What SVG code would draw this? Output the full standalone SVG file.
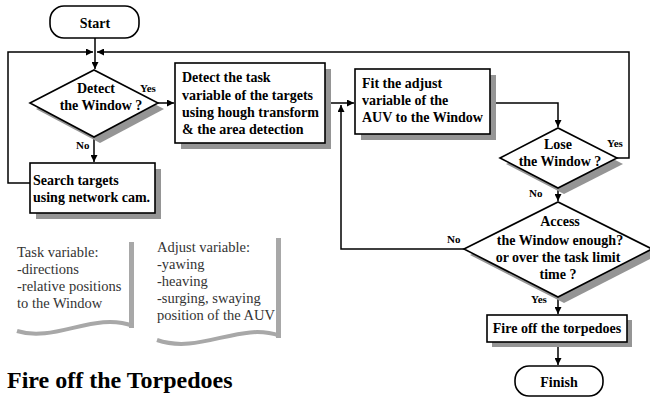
<svg xmlns="http://www.w3.org/2000/svg" width="650" height="398" viewBox="0 0 650 398">
  <defs>
    <marker id="arr" viewBox="0 0 10 10" refX="10" refY="5" markerWidth="7" markerHeight="7" markerUnits="userSpaceOnUse" orient="auto">
      <path d="M0,0 L10,5 L0,10 z" fill="#000"/>
    </marker>
    <style>
      .box { fill: #fff; stroke: #000; stroke-width: 1.6; }
      .shd { fill: #959595; stroke: none; }
      .t { font-family: "Liberation Serif", "Times New Roman", serif; font-weight: bold; font-size: 14px; fill: #000; }
      .tc { text-anchor: middle; }
      .lbl { font-family: "Liberation Serif", "Times New Roman", serif; font-weight: bold; font-size: 11px; fill: #000; }
      .doc { font-family: "Liberation Serif", "Times New Roman", serif; font-size: 14.5px; fill: #333; }
      .wave { fill: none; stroke: #a8a8a8; stroke-width: 4; }
      .bar { fill: #a8a8a8; }
      .c { fill: none; stroke: #000; stroke-width: 1.5; }
    </style>
  </defs>
  <rect width="650" height="398" fill="#fff"/>

  <!-- connectors -->
  <g id="connectors">
    <path class="c" d="M95,38 V69" marker-end="url(#arr)"/>
    <path class="c" d="M30,183 H8 V52 H93" marker-end="url(#arr)"/>
    <path class="c" d="M617,158 H629 V52 H97" marker-end="url(#arr)"/>
    <path class="c" d="M158,103 H174" marker-end="url(#arr)"/>
    <path class="c" d="M94,137 V162" marker-end="url(#arr)"/>
    <path class="c" d="M325,103 H354" marker-end="url(#arr)"/>
    <path class="c" d="M490,103 H558 V127" marker-end="url(#arr)"/>
    <path class="c" d="M558,188 V201" marker-end="url(#arr)"/>
    <path class="c" d="M464,249 H341 V105" marker-end="url(#arr)"/>
    <path class="c" d="M558,297 V314" marker-end="url(#arr)"/>
    <path class="c" d="M558,342 V365" marker-end="url(#arr)"/>
    <text class="lbl" x="140" y="92">Yes</text>
    <text class="lbl" x="76" y="149">No</text>
    <text class="lbl" x="607" y="147">Yes</text>
    <text class="lbl" x="529" y="197">No</text>
    <text class="lbl" x="447" y="243">No</text>
    <text class="lbl" x="531" y="303">Yes</text>
  </g>

  <!-- start terminal -->
  <g id="start">
    <rect class="box" x="50" y="6" width="89" height="32" rx="14"/>
    <text class="t tc" x="95" y="28">Start</text>
  </g>

  <!-- decision: detect the window -->
  <g id="detect-window">
    <polygon class="shd" points="36,109 100,76 164,109 100,143"/>
    <polygon class="box" points="30,103 94,70 158,103 94,137"/>
    <text class="t tc" x="96" y="93">Detect</text>
    <text class="t tc" x="101" y="110">the Window ?</text>
  </g>

  <!-- process: detect task variable -->
  <g id="detect-task">
    <rect class="shd" x="181" y="69" width="150" height="80"/>
    <rect class="box" x="175" y="63" width="150" height="80"/>
    <text class="t" x="182" y="82">Detect the task</text>
    <text class="t" x="182" y="100">variable of the targets</text>
    <text class="t" x="182" y="117">using hough transform</text>
    <text class="t" x="182" y="134">&amp; the area detection</text>
  </g>

  <!-- process: search targets -->
  <g id="search">
    <rect class="shd" x="36" y="169" width="125" height="50"/>
    <rect class="box" x="30" y="163" width="125" height="50"/>
    <text class="t" x="33" y="185">Search targets</text>
    <text class="t" x="33" y="202">using network cam.</text>
  </g>

  <!-- process: fit adjust variable -->
  <g id="fit-adjust">
    <rect class="shd" x="361" y="75" width="135" height="65"/>
    <rect class="box" x="355" y="69" width="135" height="65"/>
    <text class="t" x="362" y="88">Fit the adjust</text>
    <text class="t" x="362" y="105">variable of the</text>
    <text class="t" x="362" y="122">AUV to the Window</text>
  </g>

  <!-- decision: lose the window -->
  <g id="lose-window">
    <polygon class="shd" points="506,164 564,134 623,164 564,194"/>
    <polygon class="box" points="500,158 558,128 617,158 558,188"/>
    <text class="t tc" x="558" y="149">Lose</text>
    <text class="t tc" x="560" y="166">the Window ?</text>
  </g>

  <!-- decision: access enough -->
  <g id="access-window">
    <polygon class="shd" points="470,255 564,208 658,255 564,303"/>
    <polygon class="box" points="464,249 558,202 652,249 558,297"/>
    <text class="t tc" x="560" y="226">Access</text>
    <text class="t tc" x="560" y="245">the Window enough?</text>
    <text class="t tc" x="558" y="262">or over the task limit</text>
    <text class="t tc" x="558" y="279">time ?</text>
  </g>

  <!-- process: fire -->
  <g id="fire">
    <rect class="shd" x="492" y="320" width="140" height="27"/>
    <rect class="box" x="487" y="315" width="140" height="27"/>
    <text class="t tc" x="557" y="333">Fire off the torpedoes</text>
  </g>

  <!-- finish terminal -->
  <g id="finish">
    <rect class="box" x="515" y="366" width="88" height="30" rx="14"/>
    <text class="t tc" x="559" y="387">Finish</text>
  </g>

  <!-- note: task variable -->
  <g id="note-task">
    <rect class="bar" x="129" y="242" width="5" height="86"/>
    <path class="wave" d="M17,331 C55,343 95,311 133,326"/>
    <text class="doc" x="17" y="257">Task variable:</text>
    <text class="doc" x="17" y="274">-directions</text>
    <text class="doc" x="17" y="291">-relative positions</text>
    <text class="doc" x="17" y="308">to the Window</text>
  </g>

  <!-- note: adjust variable -->
  <g id="note-adjust">
    <rect class="bar" x="276" y="238" width="5" height="100"/>
    <path class="wave" d="M157,340 C200,355 240,321 280,336"/>
    <text class="doc" x="157" y="252">Adjust variable:</text>
    <text class="doc" x="157" y="269">-yawing</text>
    <text class="doc" x="157" y="286">-heaving</text>
    <text class="doc" x="157" y="303">-surging, swaying</text>
    <text class="doc" x="157" y="320">position of the AUV</text>
  </g>

  <text x="7" y="388" font-family="'Liberation Serif', 'Times New Roman', serif" font-weight="bold" font-size="24" fill="#000">Fire off the Torpedoes</text>
</svg>
